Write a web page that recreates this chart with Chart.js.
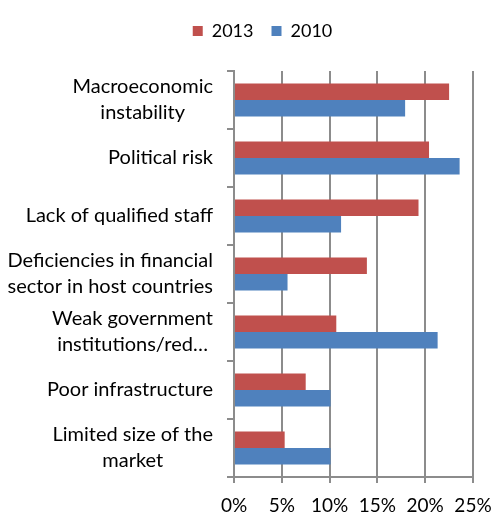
<!DOCTYPE html>
<html lang="en">
<head>
  <meta charset="UTF-8">
  <title>Obstacles chart</title>
  <script src="https://cdn.jsdelivr.net/npm/chart.js"></script>
  <style>
    body { margin: 0; background: #fff; }
    #wrap { width: 494px; height: 514px; }
  </style>
</head>
<body>
  <div id="wrap"><canvas id="myChart" width="494" height="514"></canvas></div>
<script>
  const categorias = [
    ['Macroeconomic', 'instability'],
    'Political risk',
    'Lack of qualified staff',
    ['Deficiencies in financial', 'sector in host countries'],
    ['Weak government', 'institutions/red…'],
    'Poor infrastructure',
    ['Limited size of the', 'market']
  ];
  const valores2013 = [22.5, 20.4, 19.3, 13.9, 10.7, 7.5, 5.3];
  const valores2010 = [17.9, 23.6, 11.2, 5.6, 21.3, 10.1, 10.1];
  const ticksX = [0, 5, 10, 15, 20, 25];

  const fonte = 'Lato, "Open Sans", sans-serif';
  const cinza = '#8c8c8c';

  // rótulos do eixo y: bloco alinhado à direita, linhas centradas entre si
  const rotulosY = {
    id: 'rotulosY',
    afterDraw(chart) {
      const s = chart.scales.y;
      const ctx = chart.ctx;
      ctx.save();
      ctx.font = '20px ' + fonte;
      ctx.fillStyle = '#000';
      ctx.textAlign = 'center';
      ctx.textBaseline = 'middle';
      const dir = 213;
      const lh = 26;
      categorias.forEach((lab, i) => {
        const linhas = Array.isArray(lab) ? lab : [lab];
        const larg = Math.max(...linhas.map(l => ctx.measureText(l).width));
        const cx = dir - larg / 2;
        const y0 = s.getPixelForTick(i) - (linhas.length - 1) * lh / 2;
        linhas.forEach((l, k) => ctx.fillText(l, cx, y0 + k * lh));
      });
      ctx.restore();
    }
  };

  // legenda: mais espaço abaixo e deslocada para a direita
  const ajusteLegenda = {
    id: 'ajusteLegenda',
    beforeInit(chart) {
      const fitOrig = chart.legend.fit;
      chart.legend.fit = function () {
        fitOrig.bind(chart.legend)();
        this.height += 21;
      };
    },
    afterLayout(chart) {
      chart.legend.left += 26;
      chart.legend.right += 26;
    }
  };

  new Chart(document.getElementById('myChart'), {
    type: 'bar',
    data: {
      labels: categorias,
      datasets: [
        {
          label: '2013',
          data: valores2013,
          backgroundColor: '#C0504D',
          categoryPercentage: 0.57,
          barPercentage: 1
        },
        {
          label: '2010',
          data: valores2010,
          backgroundColor: '#4F81BD',
          categoryPercentage: 0.57,
          barPercentage: 1
        }
      ]
    },
    plugins: [ajusteLegenda, rotulosY],
    options: {
      indexAxis: 'y',
      responsive: false,
      animation: false,
      layout: { padding: { left: 0, right: 21, top: 4, bottom: 0 } },
      plugins: {
        legend: {
          position: 'top',
          labels: {
            boxWidth: 10,
            boxHeight: 10,
            color: '#000',
            font: { family: fonte, size: 18 },
            padding: 18
          }
        },
        tooltip: { enabled: false }
      },
      scales: {
        x: {
          min: 0,
          max: 25,
          afterBuildTicks: (s) => { s.ticks = ticksX.map(v => ({ value: v })); },
          ticks: {
            color: '#000',
            font: { family: fonte, size: 19 },
            padding: 11,
            callback: (v) => v + '%'
          },
          grid: { color: cinza, lineWidth: 2, tickLength: 6, drawTicks: true },
          border: { display: true, color: cinza, width: 2 },
          afterFit: (s) => { s.height = 37; s.paddingRight = 0; s.paddingLeft = 0; }
        },
        y: {
          ticks: { display: false },
          grid: { color: cinza, lineWidth: 2, drawOnChartArea: false, tickLength: 7, offset: true },
          border: { display: true, color: cinza, width: 2 },
          afterFit: (s) => { s.width = 234; }
        }
      }
    }
  });
</script>
</body>
</html>
